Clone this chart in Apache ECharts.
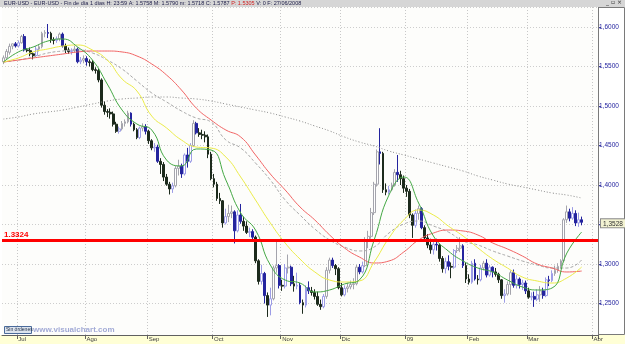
<!DOCTYPE html>
<html>
<head>
<meta charset="utf-8">
<script src="https://cdn.jsdelivr.net/npm/echarts@6/dist/echarts.min.js"></script>
<style>
html, body { margin: 0; padding: 0; background: #fff; }
#main { width: 625px; height: 344px; }
</style>
</head>
<body>
<div id="main"></div>
<script>
// trading days, weekdays without the two closed days
var holidays = ['2008-12-25', '2009-01-01'];
var monthLabels = {
    '2008-07': 'Jul', '2008-08': 'Ago', '2008-09': 'Sep', '2008-10': 'Oct', '2008-11': 'Nov',
    '2008-12': 'Dic', '2009-01': '09', '2009-02': 'Feb', '2009-03': 'Mar', '2009-04': 'Abr'
};
var dates = [];
for (var d = new Date(Date.UTC(2008, 5, 24)); d <= new Date(Date.UTC(2009, 3, 2)); d.setUTCDate(d.getUTCDate() + 1)) {
    var wd = d.getUTCDay();
    var s = d.toISOString().slice(0, 10);
    if (wd === 0 || wd === 6 || holidays.indexOf(s) >= 0) continue;
    dates.push(s);
}

// daily bars [open, close, low, high], 24/06/2008 .. 26/03/2009
var ohlc = [
    [1.5560, 1.5610, 1.5530, 1.5640], [1.5610, 1.5690, 1.5590, 1.5720], [1.5680, 1.5755, 1.5650, 1.5790],
    [1.5758, 1.5787, 1.5718, 1.5790], [1.5787, 1.5760, 1.5740, 1.5810],
    // Jul
    [1.5760, 1.5800, 1.5740, 1.5830], [1.5800, 1.5880, 1.5790, 1.5900], [1.5880, 1.5710, 1.5690, 1.5910],
    [1.5710, 1.5700, 1.5680, 1.5730], [1.5700, 1.5660, 1.5630, 1.5740], [1.5660, 1.5640, 1.5590, 1.5680],
    [1.5640, 1.5720, 1.5620, 1.5760], [1.5720, 1.5750, 1.5690, 1.5780], [1.5750, 1.5920, 1.5730, 1.5940],
    [1.5920, 1.5930, 1.5870, 1.5960], [1.5930, 1.5920, 1.5860, 1.6038], [1.5920, 1.5840, 1.5800, 1.5940],
    [1.5840, 1.5830, 1.5780, 1.5870], [1.5830, 1.5850, 1.5800, 1.5880], [1.5850, 1.5910, 1.5820, 1.5930],
    [1.5910, 1.5760, 1.5740, 1.5930], [1.5760, 1.5710, 1.5670, 1.5790], [1.5710, 1.5690, 1.5660, 1.5740],
    [1.5690, 1.5700, 1.5650, 1.5730], [1.5700, 1.5720, 1.5680, 1.5760], [1.5720, 1.5560, 1.5540, 1.5740],
    [1.5560, 1.5580, 1.5530, 1.5620], [1.5580, 1.5600, 1.5540, 1.5640],
    // Ago
    [1.5600, 1.5560, 1.5510, 1.5630], [1.5560, 1.5550, 1.5500, 1.5590], [1.5550, 1.5460, 1.5440, 1.5580],
    [1.5460, 1.5450, 1.5410, 1.5490], [1.5450, 1.5330, 1.5300, 1.5470], [1.5330, 1.5010, 1.4980, 1.5350],
    [1.5010, 1.4930, 1.4890, 1.5060], [1.4930, 1.4920, 1.4860, 1.4960], [1.4920, 1.4900, 1.4840, 1.4970],
    [1.4900, 1.4770, 1.4740, 1.4930], [1.4770, 1.4680, 1.4660, 1.4800], [1.4680, 1.4710, 1.4650, 1.4740],
    [1.4710, 1.4780, 1.4690, 1.4810], [1.4780, 1.4800, 1.4740, 1.4830], [1.4800, 1.4910, 1.4780, 1.4940],
    [1.4910, 1.4770, 1.4740, 1.4920], [1.4770, 1.4700, 1.4680, 1.4790], [1.4700, 1.4600, 1.4580, 1.4720],
    [1.4600, 1.4720, 1.4580, 1.4740], [1.4720, 1.4740, 1.4680, 1.4780], [1.4740, 1.4680, 1.4640, 1.4770],
    // Sep
    [1.4680, 1.4560, 1.4520, 1.4700], [1.4560, 1.4470, 1.4440, 1.4580], [1.4470, 1.4480, 1.4420, 1.4530],
    [1.4480, 1.4300, 1.4280, 1.4510], [1.4300, 1.4260, 1.4140, 1.4340], [1.4260, 1.4100, 1.4050, 1.4290],
    [1.4100, 1.4010, 1.3990, 1.4140], [1.4010, 1.3950, 1.3880, 1.4040], [1.3950, 1.3990, 1.3900, 1.4030],
    [1.3990, 1.4210, 1.3970, 1.4240], [1.4210, 1.4240, 1.4120, 1.4320], [1.4240, 1.4140, 1.4090, 1.4270],
    [1.4140, 1.4380, 1.4120, 1.4400], [1.4380, 1.4300, 1.4220, 1.4470], [1.4300, 1.4500, 1.4280, 1.4530],
    [1.4500, 1.4780, 1.4480, 1.4820], [1.4780, 1.4660, 1.4640, 1.4800], [1.4660, 1.4640, 1.4610, 1.4720],
    [1.4640, 1.4630, 1.4580, 1.4700], [1.4630, 1.4610, 1.4540, 1.4680], [1.4610, 1.4390, 1.4340, 1.4640],
    [1.4390, 1.4080, 1.4060, 1.4420],
    // Oct
    [1.4080, 1.4010, 1.3970, 1.4140], [1.4010, 1.3830, 1.3800, 1.4040], [1.3830, 1.3800, 1.3760, 1.3900],
    [1.3800, 1.3520, 1.3460, 1.3810], [1.3520, 1.3600, 1.3500, 1.3700], [1.3600, 1.3640, 1.3530, 1.3750],
    [1.3640, 1.3660, 1.3580, 1.3740], [1.3660, 1.3420, 1.3260, 1.3680], [1.3420, 1.3620, 1.3400, 1.3680],
    [1.3620, 1.3540, 1.3510, 1.3760], [1.3540, 1.3480, 1.3420, 1.3600], [1.3480, 1.3400, 1.3380, 1.3540],
    [1.3400, 1.3410, 1.3340, 1.3460], [1.3410, 1.3340, 1.3290, 1.3440], [1.3340, 1.3040, 1.3010, 1.3360],
    [1.3040, 1.2780, 1.2740, 1.3060], [1.2780, 1.2880, 1.2740, 1.2990], [1.2880, 1.2600, 1.2500, 1.2900],
    [1.2600, 1.2480, 1.2330, 1.2640], [1.2480, 1.2560, 1.2350, 1.2700], [1.2560, 1.2950, 1.2540, 1.2980],
    [1.2950, 1.2980, 1.2890, 1.3300], [1.2980, 1.2730, 1.2690, 1.3000],
    // Nov
    [1.2730, 1.2720, 1.2660, 1.2800], [1.2720, 1.2950, 1.2690, 1.3000], [1.2950, 1.2960, 1.2880, 1.3120],
    [1.2960, 1.2750, 1.2720, 1.2980], [1.2750, 1.2720, 1.2650, 1.2850], [1.2720, 1.2730, 1.2680, 1.2890],
    [1.2730, 1.2510, 1.2490, 1.2760], [1.2510, 1.2480, 1.2370, 1.2550], [1.2480, 1.2700, 1.2450, 1.2730],
    [1.2700, 1.2660, 1.2620, 1.2780], [1.2660, 1.2640, 1.2600, 1.2710], [1.2640, 1.2590, 1.2550, 1.2680],
    [1.2590, 1.2490, 1.2470, 1.2650], [1.2490, 1.2460, 1.2420, 1.2550], [1.2460, 1.2590, 1.2440, 1.2620],
    [1.2590, 1.2920, 1.2560, 1.2960], [1.2920, 1.3050, 1.2880, 1.3080], [1.3050, 1.2980, 1.2950, 1.3080],
    [1.2980, 1.2940, 1.2860, 1.3000], [1.2940, 1.2700, 1.2680, 1.2960],
    // Dic
    [1.2700, 1.2610, 1.2590, 1.2760], [1.2610, 1.2690, 1.2590, 1.2730], [1.2690, 1.2710, 1.2640, 1.2760],
    [1.2710, 1.2740, 1.2680, 1.2790], [1.2740, 1.2750, 1.2680, 1.2820], [1.2750, 1.2960, 1.2730, 1.2990],
    [1.2960, 1.2900, 1.2870, 1.3000], [1.2900, 1.2980, 1.2880, 1.3030], [1.2980, 1.3290, 1.2960, 1.3340],
    [1.3290, 1.3350, 1.3200, 1.3420], [1.3350, 1.3650, 1.3320, 1.3710], [1.3650, 1.4010, 1.3620, 1.4040],
    [1.4010, 1.4420, 1.3980, 1.4450], [1.4420, 1.4400, 1.4260, 1.4719], [1.4400, 1.3940, 1.3900, 1.4420],
    [1.3940, 1.3910, 1.3870, 1.4020], [1.3910, 1.3940, 1.3880, 1.3990], [1.3940, 1.4000, 1.3920, 1.4030],
    [1.4000, 1.4160, 1.3980, 1.4200], [1.4160, 1.4130, 1.4040, 1.4380], [1.4130, 1.4080, 1.4000, 1.4180],
    [1.4080, 1.3960, 1.3900, 1.4120],
    // 09
    [1.3960, 1.3920, 1.3850, 1.4000], [1.3920, 1.3620, 1.3580, 1.3950], [1.3620, 1.3490, 1.3330, 1.3640],
    [1.3490, 1.3640, 1.3460, 1.3690], [1.3640, 1.3700, 1.3560, 1.3740], [1.3700, 1.3460, 1.3440, 1.3720],
    [1.3460, 1.3330, 1.3300, 1.3490], [1.3330, 1.3240, 1.3200, 1.3380], [1.3240, 1.3180, 1.3130, 1.3320],
    [1.3180, 1.3250, 1.3120, 1.3290], [1.3250, 1.3240, 1.3170, 1.3320], [1.3240, 1.3070, 1.3030, 1.3260],
    [1.3070, 1.2940, 1.2890, 1.3100], [1.2940, 1.3030, 1.2880, 1.3080], [1.3030, 1.2970, 1.2920, 1.3110],
    [1.2970, 1.2960, 1.2820, 1.3020], [1.2960, 1.3170, 1.2940, 1.3190], [1.3170, 1.3200, 1.3140, 1.3240],
    [1.3200, 1.3230, 1.3150, 1.3340], [1.3230, 1.2980, 1.2950, 1.3250], [1.2980, 1.2810, 1.2760, 1.3020],
    // Feb
    [1.2810, 1.2770, 1.2740, 1.2870], [1.2770, 1.3010, 1.2750, 1.3040], [1.3010, 1.2810, 1.2790, 1.3060],
    [1.2810, 1.2800, 1.2740, 1.2860], [1.2800, 1.2950, 1.2780, 1.2990], [1.2950, 1.3010, 1.2920, 1.3040],
    [1.3010, 1.2860, 1.2830, 1.3060], [1.2860, 1.2960, 1.2840, 1.2990], [1.2960, 1.2900, 1.2830, 1.2970],
    [1.2900, 1.2870, 1.2840, 1.2950], [1.2870, 1.2800, 1.2760, 1.2890], [1.2800, 1.2600, 1.2560, 1.2810],
    [1.2600, 1.2620, 1.2510, 1.2680], [1.2620, 1.2740, 1.2600, 1.2780], [1.2740, 1.2890, 1.2610, 1.2920],
    [1.2890, 1.2730, 1.2700, 1.2930], [1.2730, 1.2810, 1.2690, 1.2860], [1.2810, 1.2740, 1.2690, 1.2830],
    [1.2740, 1.2760, 1.2670, 1.2800], [1.2760, 1.2660, 1.2620, 1.2790],
    // Mar
    [1.2660, 1.2580, 1.2560, 1.2700], [1.2580, 1.2590, 1.2540, 1.2640], [1.2590, 1.2555, 1.2457, 1.2650],
    [1.2555, 1.2610, 1.2530, 1.2680], [1.2610, 1.2660, 1.2520, 1.2720], [1.2660, 1.2600, 1.2560, 1.2700],
    [1.2600, 1.2800, 1.2580, 1.2830], [1.2800, 1.2790, 1.2720, 1.2850], [1.2790, 1.2880, 1.2770, 1.2920],
    [1.2880, 1.2920, 1.2850, 1.2980], [1.2920, 1.2970, 1.2890, 1.3010], [1.2970, 1.3040, 1.2940, 1.3060],
    [1.3040, 1.3560, 1.3020, 1.3580], [1.3560, 1.3660, 1.3520, 1.3740], [1.3660, 1.3580, 1.3540, 1.3700],
    [1.3580, 1.3640, 1.3560, 1.3720], [1.3640, 1.3520, 1.3480, 1.3680], [1.3520, 1.3560, 1.3470, 1.3650],
    [1.3560, 1.3528, 1.3490, 1.3600]
];

// moving averages at these bar positions
var maIdx = [0, 5, 10, 15, 20, 25, 30, 35, 40, 45, 50, 55, 60, 65, 70, 75, 80, 85, 90, 95,
    100, 105, 110, 115, 120, 125, 130, 135, 140, 145, 150, 155, 160, 165, 170, 175, 180, 185, 190, 195];
var maGreen = [1.5557, 1.5684, 1.5747, 1.5823, 1.5848, 1.5747, 1.5582, 1.5278, 1.4949, 1.4772,
    1.4696, 1.4316, 1.4241, 1.4456, 1.4443, 1.4063, 1.3646, 1.3430, 1.2987, 1.2797,
    1.2759, 1.2646, 1.2671, 1.2747, 1.2797, 1.3304, 1.3873, 1.4101, 1.3772, 1.3354,
    1.3165, 1.3038, 1.2949, 1.2899, 1.2797, 1.2709, 1.2671, 1.2696, 1.3139, 1.3405];
var maYellow = [1.5557, 1.5608, 1.5684, 1.5722, 1.5759, 1.5772, 1.5709, 1.5582, 1.5342, 1.5190,
    1.4873, 1.4722, 1.4570, 1.4481, 1.4468, 1.4354, 1.4101, 1.3810, 1.3519, 1.3266,
    1.3063, 1.2899, 1.2797, 1.2772, 1.2785, 1.3025, 1.3329, 1.3557, 1.3684, 1.3620,
    1.3481, 1.3354, 1.3203, 1.3063, 1.2949, 1.2835, 1.2785, 1.2759, 1.2823, 1.2962];
var maDashed = [1.5557, 1.5582, 1.5620, 1.5671, 1.5696, 1.5709, 1.5671, 1.5582, 1.5468, 1.5316,
    1.5165, 1.5051, 1.4937, 1.4848, 1.4797, 1.4570, 1.4468, 1.4278, 1.4063, 1.3810,
    1.3620, 1.3443, 1.3304, 1.3215, 1.3165, 1.3215, 1.3392, 1.3506, 1.3544, 1.3481,
    1.3405, 1.3291, 1.3241, 1.3165, 1.3101, 1.3038, 1.2987, 1.2949, 1.2949, 1.3051];
var maRed = [1.5557, 1.5582, 1.5608, 1.5633, 1.5658, 1.5684, 1.5696, 1.5696, 1.5684, 1.5633,
    1.5532, 1.5392, 1.5203, 1.4975, 1.4823, 1.4696, 1.4608, 1.4380, 1.4139, 1.3937,
    1.3722, 1.3557, 1.3367, 1.3203, 1.3089, 1.3013, 1.3038, 1.3152, 1.3304, 1.3392,
    1.3430, 1.3418, 1.3367, 1.3266, 1.3190, 1.3101, 1.3000, 1.2949, 1.2899, 1.2911];
var maDotted = [1.4835, 1.4861, 1.4899, 1.4924, 1.4949, 1.4987, 1.5025, 1.5063, 1.5089, 1.5101,
    1.5114, 1.5114, 1.5101, 1.5089, 1.5063, 1.5025, 1.4987, 1.4949, 1.4911, 1.4861,
    1.4810, 1.4747, 1.4684, 1.4608, 1.4544, 1.4494, 1.4430, 1.4380, 1.4329, 1.4278,
    1.4228, 1.4177, 1.4114, 1.4063, 1.4013, 1.3975, 1.3937, 1.3899, 1.3873, 1.3835];

var redLevel = 1.3324;
var lastClose = 1.3528;

function isMonthStart(i) {
    return i > 0 && dates[i].slice(0, 7) !== dates[i - 1].slice(0, 7);
}

var candles = ohlc.map(function (v, i) {
    var up = v[1] >= v[0];
    var prevDown = i > 0 && ohlc[i - 1][1] < ohlc[i - 1][0];
    var fill, line;
    if (up) {
        fill = '#ffffff';
        line = prevDown ? '#9c9ce6' : '#a4a4ac';
    } else {
        fill = prevDown ? '#1c2a1c' : '#24249e';
        line = fill;
    }
    return {
        value: v,
        itemStyle: { color: fill, color0: fill, borderColor: line, borderColor0: line }
    };
});

function maSeries(vals, color, type) {
    return {
        type: 'line',
        data: maIdx.map(function (k, j) { return [k, vals[j]]; }),
        smooth: true,
        symbol: 'none',
        silent: true,
        z: 3,
        lineStyle: { color: color, width: 1, type: type }
    };
}

var staticGraphics = [
    { type: 'rect', z: -10, shape: { x: 0, y: 335, width: 625, height: 9 }, style: { fill: '#ffffd6' } },
    { type: 'rect', z: 10, shape: { x: 0, y: 0, width: 625, height: 7 }, style: { fill: '#d6d6d6' } },
    {
        type: 'text', z: 11, left: 4, top: 0,
        style: {
            text: '{a|EUR-USD - EUR-USD - Fin de día 1 días H: 23:59 A: 1.5758 M: 1.5790 m: 1.5718 C: 1.5787 }{b|P: 1.5305}{a| V: 0 F: 27/06/2008}',
            rich: {
                a: { fontSize: 5.5, fill: '#20204a', fontFamily: 'Liberation Sans' },
                b: { fontSize: 5.5, fill: '#d02020', fontFamily: 'Liberation Sans' }
            }
        }
    },
    {
        type: 'text', z: 11, left: 606, top: -1,
        style: { text: '_ ▫ ×', fontSize: 6, fill: '#303030', fontFamily: 'DejaVu Sans' }
    },
    { type: 'rect', z: 10, shape: { x: 598.5, y: 7.5, width: 26, height: 327 }, style: { fill: 'none', stroke: '#7a7a7a', lineWidth: 1 } },
    { type: 'rect', z: 10, shape: { x: 4.5, y: 326.5, width: 27, height: 7 }, style: { fill: '#dde4ee', stroke: '#4a6a9a', lineWidth: 1 } },
    {
        type: 'text', z: 11, left: 6, top: 327.5,
        style: { text: 'Sin órdenes', fontSize: 5, fill: '#20304a', fontFamily: 'Liberation Sans' }
    },
    {
        type: 'text', z: 11, left: 33, top: 326,
        style: { text: 'www.visualchart.com', fontSize: 8, fontWeight: 'bold', fill: '#a2aad6', fontFamily: 'Liberation Sans' }
    }
];

var myChart = echarts.init(document.getElementById('main'));
myChart.setOption({
    animation: false,
    textStyle: { fontFamily: 'Liberation Sans' },
    grid: { left: 2, right: 27, top: 7, bottom: 9, show: true, backgroundColor: '#fdfdfb', borderWidth: 0 },
    xAxis: {
        type: 'category',
        data: dates,
        boundaryGap: true,
        axisLine: { show: true, lineStyle: { color: '#606060', width: 1 } },
        axisTick: { show: true, length: 4, interval: isMonthStart, lineStyle: { color: '#606060' } },
        axisLabel: {
            interval: isMonthStart,
            align: 'left',
            margin: 1,
            fontSize: 6,
            color: '#404040',
            formatter: function (v) { return monthLabels[v.slice(0, 7)] || ''; }
        },
        splitLine: { show: true, interval: isMonthStart, lineStyle: { color: '#c8c8c8', type: [1, 2] } }
    },
    yAxis: {
        type: 'value',
        position: 'right',
        min: 1.21013,
        max: 1.62532,
        splitNumber: 8,
        axisLine: { show: true, lineStyle: { color: '#707070' } },
        axisTick: { show: true, length: 3, lineStyle: { color: '#4040a0' } },
        axisLabel: {
            fontSize: 6.5,
            color: '#2626a0',
            margin: 1,
            showMinLabel: false,
            showMaxLabel: false,
            formatter: function (v) { return v.toFixed(4).replace('.', ','); }
        },
        splitLine: { show: true, lineStyle: { color: '#cdcdcd', type: [1, 2] } }
    },
    series: [
        maSeries(maDotted, '#8c8c8c', [1, 2]),
        maSeries(maDashed, '#a8a8a8', [3, 2]),
        maSeries(maRed, '#f26464', 'solid'),
        maSeries(maYellow, '#ecec48', 'solid'),
        maSeries(maGreen, '#44a844', 'solid'),
        {
            type: 'candlestick',
            data: candles,
            barWidth: '78%',
            z: 2,
            markLine: {
                symbol: 'none',
                silent: true,
                z: 5,
                data: [
                    {
                        yAxis: redLevel,
                        lineStyle: { color: '#ff0000', width: 3, type: 'solid' },
                        label: {
                            show: true, position: 'insideStartTop', distance: 2,
                            formatter: redLevel.toFixed(4), color: '#ff0000',
                            fontWeight: 'bold', fontSize: 8
                        }
                    }
                ]
            }
        }
    ],
    graphic: staticGraphics
});

// last price tag on the price axis, placed through the axis scale
var tagY = myChart.convertToPixel({ yAxisIndex: 0 }, lastClose);
myChart.setOption({
    graphic: staticGraphics.concat([{
        type: 'text', z: 20, left: 600, top: tagY - 4,
        style: {
            text: lastClose.toFixed(4).replace('.', ','),
            fontSize: 6.5, fill: '#303030', fontFamily: 'Liberation Sans',
            backgroundColor: '#f3f3d2', borderColor: '#8a8a8a', borderWidth: 1,
            padding: [1, 3, 0, 2]
        }
    }])
});
</script>
</body>
</html>
